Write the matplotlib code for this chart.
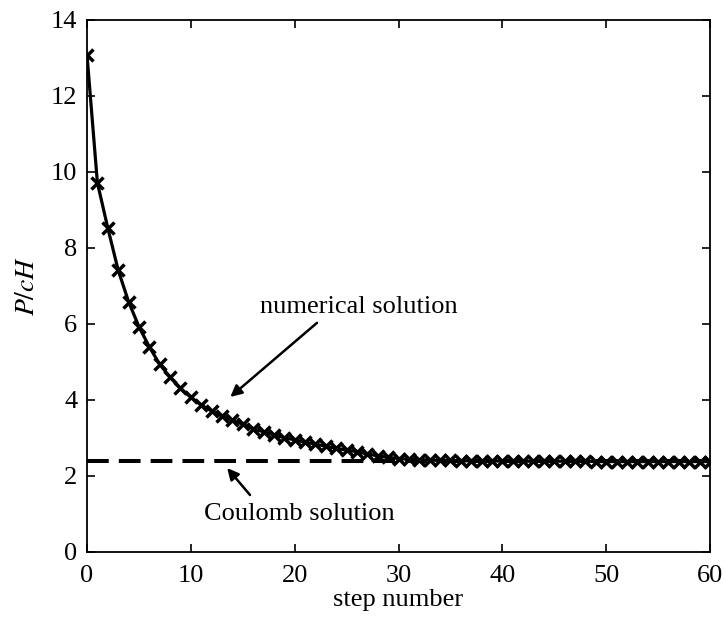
import matplotlib
matplotlib.use("Agg")
import matplotlib.pyplot as plt

# step numbers and numerical solution P/cH
steps = list(range(0, 61))
p_num = [13.08, 9.72, 8.53, 7.42, 6.59, 5.93, 5.40, 4.94, 4.60, 4.31,
         4.07, 3.87, 3.71, 3.58, 3.47, 3.36, 3.25, 3.16, 3.08, 3.01,
         2.95, 2.89, 2.84, 2.78, 2.73, 2.68, 2.64, 2.58, 2.53, 2.49,
         2.46, 2.44, 2.43, 2.42, 2.41, 2.41, 2.40, 2.40, 2.40, 2.40,
         2.39, 2.39, 2.39, 2.39, 2.39, 2.39, 2.39, 2.39, 2.39, 2.38,
         2.38, 2.38, 2.38, 2.38, 2.38, 2.38, 2.38, 2.38, 2.38, 2.38,
         2.38]
coulomb_x = [0, 60]
coulomb_y = [2.39, 2.39]

plt.rcParams['font.family'] = ['Liberation Serif', 'DejaVu Serif']
plt.rcParams['mathtext.fontset'] = 'stix'

fig = plt.figure(figsize=(7.25, 6.23), dpi=100)
ax = fig.add_axes([87 / 725, 1 - 552 / 623, 623 / 725, 532 / 623])

ax.plot(coulomb_x, coulomb_y, color='black', linestyle=(0, (5.4, 2.5)), linewidth=2.9)
ax.plot(steps, p_num, color='black', linewidth=2.3, marker='x',
        markersize=9, markeredgewidth=2.5)

ax.set_xlim(0, 60)
ax.set_ylim(0, 14)
ax.set_xticks(range(0, 61, 10))
ax.set_yticks(range(0, 15, 2))
ax.tick_params(direction='in', top=True, right=True, labelsize=19,
               length=6, width=1.2)
ax.tick_params(axis='x', pad=9)
ax.tick_params(axis='y', pad=7)
for sp in ax.spines.values():
    sp.set_linewidth(1.3)

ax.set_xlabel('step number', fontsize=19, labelpad=2)
ax.set_ylabel('$P/cH$', fontsize=20, labelpad=8)

arrow = dict(arrowstyle='-|>', color='black', lw=1.8, mutation_scale=17,
             shrinkA=0, shrinkB=0)
ax.text(26.2, 6.45, 'numerical solution', fontsize=19, ha='center', va='center')
ax.annotate('', xy=(13.8, 4.08), xytext=(22.15, 6.03), arrowprops=arrow)
ax.text(20.4, 1.0, 'Coulomb solution', fontsize=19, ha='center', va='center')
ax.annotate('', xy=(13.5, 2.21), xytext=(15.7, 1.5), arrowprops=arrow)

fig.savefig('out.png', dpi=100)
